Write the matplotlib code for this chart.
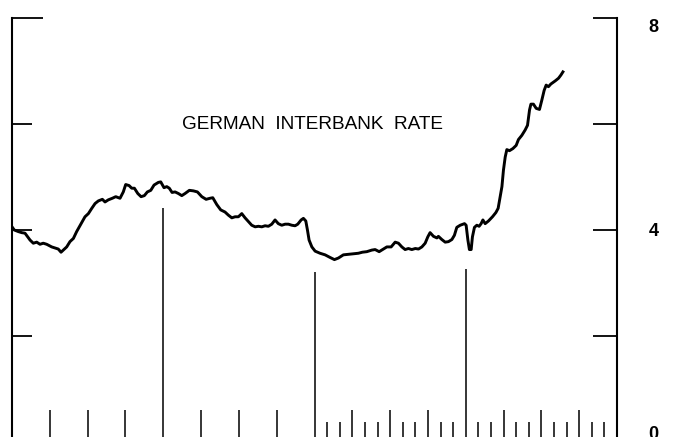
import matplotlib
matplotlib.use("Agg")
import matplotlib.pyplot as plt

# months since start of chart (4 years = 48 months), rate in percent
months = [0.0, 0.18, 0.50, 0.77, 1.03, 1.43, 1.69, 1.96, 2.22, 2.48, 2.75, 3.15, 3.41, 3.67, 3.89,
          4.07, 4.34, 4.60, 4.87, 5.13, 5.48, 5.79, 6.06, 6.33, 6.59, 6.85, 7.17, 7.38, 7.64, 7.96,
          8.23, 8.57, 8.83, 9.02, 9.29, 9.50, 9.71, 9.98, 10.24, 10.50, 10.74, 11.01, 11.27, 11.61,
          11.80, 12.06, 12.28, 12.48, 12.70, 12.94, 13.20, 13.47, 13.73, 14.07, 14.39, 14.71, 15.06,
          15.40, 15.71, 15.93, 16.25, 16.56, 16.90, 17.17, 17.44, 17.70, 17.96, 18.23, 18.49, 18.75,
          19.02, 19.29, 19.55, 19.82, 20.08, 20.34, 20.61, 20.87, 21.13, 21.40, 21.67, 21.93, 22.20,
          22.46, 22.67, 22.94, 23.12, 23.31, 23.44, 23.57, 23.79, 24.05, 24.44, 24.84, 25.24, 25.58,
          25.90, 26.29, 26.69, 27.09, 27.48, 27.80, 28.15, 28.55, 28.81, 29.13, 29.47, 29.74, 30.08,
          30.40, 30.66, 30.93, 31.19, 31.45, 31.72, 32.00, 32.25, 32.52, 32.78, 32.99, 33.17, 33.44,
          33.71, 33.83, 34.10, 34.37, 34.63, 34.90, 35.10, 35.29, 35.56, 35.90, 36.03, 36.17, 36.29,
          36.43, 36.53, 36.69, 36.88, 37.06, 37.22, 37.36, 37.54, 37.80, 38.12, 38.39, 38.57, 38.87,
          38.99, 39.13, 39.26, 39.47, 39.74, 40.00, 40.18, 40.45, 40.71, 40.90, 41.06, 41.17, 41.37,
          41.59, 41.85, 42.04, 42.22, 42.38, 42.56, 42.75, 43.10, 43.36, 43.55, 43.71]
rates = [4.06, 4.00, 3.97, 3.95, 3.94, 3.81, 3.75, 3.77, 3.73, 3.75, 3.73, 3.68, 3.66, 3.64, 3.58,
         3.62, 3.68, 3.78, 3.84, 3.97, 4.12, 4.25, 4.31, 4.41, 4.50, 4.55, 4.58, 4.53, 4.57, 4.60,
         4.63, 4.60, 4.72, 4.86, 4.84, 4.79, 4.79, 4.69, 4.63, 4.65, 4.72, 4.75, 4.85, 4.90,
         4.91, 4.80, 4.82, 4.79, 4.71, 4.72, 4.69, 4.65, 4.69, 4.75, 4.74, 4.72, 4.63,
         4.58, 4.60, 4.61, 4.48, 4.38, 4.34, 4.28, 4.23, 4.25, 4.25, 4.31, 4.23, 4.16,
         4.09, 4.06, 4.07, 4.06, 4.08, 4.07, 4.11, 4.19, 4.12, 4.09, 4.11, 4.11, 4.09,
         4.08, 4.11, 4.19, 4.22, 4.17, 4.00, 3.81, 3.68, 3.60, 3.56, 3.53, 3.48, 3.44,
         3.47, 3.53, 3.54, 3.55, 3.56, 3.58, 3.59, 3.62, 3.63, 3.59, 3.64, 3.68, 3.68,
         3.77, 3.75, 3.68, 3.63, 3.65, 3.63, 3.65, 3.64, 3.68, 3.75, 3.87, 3.95, 3.88,
         3.85, 3.88, 3.82, 3.77, 3.78, 3.82, 3.90, 4.05, 4.09, 4.12, 4.09, 3.81, 3.63,
         3.63, 3.87, 4.05, 4.09, 4.07, 4.12, 4.19, 4.12, 4.17, 4.25, 4.33, 4.41, 4.82,
         5.13, 5.38, 5.52, 5.50, 5.54, 5.60, 5.71, 5.79, 5.89, 5.98, 6.27, 6.38, 6.38,
         6.30, 6.28, 6.46, 6.64, 6.74, 6.71, 6.76, 6.82, 6.87, 6.93, 6.99]

title = "GERMAN  INTERBANK  RATE"
right_labels = ["8", "4", "0"]
right_label_values = [8, 4, 0]
year_marks = [12, 24, 36]
year_mark_heights = [4.41, 3.20, 3.27]
quarter_marks = [3, 6, 9, 15, 18, 21, 27, 30, 33, 39, 42, 45]
month_marks = [m for m in range(25, 48) if m % 3 != 0]

fig = plt.figure(figsize=(6.8, 4.37), dpi=100)
ax = fig.add_axes([12 / 680, -0.0103, (617 - 12) / 680, 0.968])
ax.set_xlim(0, 48)
ax.set_ylim(0, 8)
ax.patch.set_visible(False)

for s in ("top", "bottom"):
    ax.spines[s].set_visible(False)
for s in ("left", "right"):
    ax.spines[s].set_linewidth(1.5)
    ax.spines[s].set_color("black")

ax.set_xticks([])
ax.set_yticks([0, 2, 4, 6, 8])
ax.tick_params(axis="y", which="major", direction="in", left=True, right=True,
               labelleft=False, labelright=False, length=14.4, width=1.3, color="black")
for t in ax.yaxis.get_major_ticks():
    t.tick2line.set_markersize(17.3)
ax.yaxis.get_major_ticks()[-1].tick1line.set_markersize(22.3)

# right-hand value labels (as placed in the original, slightly offset from ticks)
label_offsets = {8: -0.17, 4: -0.02, 0: 0.13}
for v, lab in zip(right_label_values, right_labels):
    ax.text(48 + 2.5, v + label_offsets[v], lab, ha="left", va="center", fontsize=13,
            fontweight="bold", family="Liberation Sans", clip_on=False)

# bottom time marks
ax.vlines(year_marks, 0, year_mark_heights, color="black", lw=1.1)
ax.vlines(quarter_marks, 0, 0.59, color="black", lw=1.1)
ax.vlines(month_marks, 0, 0.37, color="black", lw=1.1)

ax.plot(months, rates, color="black", lw=2.1, solid_joinstyle="round")

ax.text(23.85, 5.91, title, ha="center", va="baseline", fontsize=13.7,
        family="Liberation Sans")

fig.savefig("out.png", dpi=100)
